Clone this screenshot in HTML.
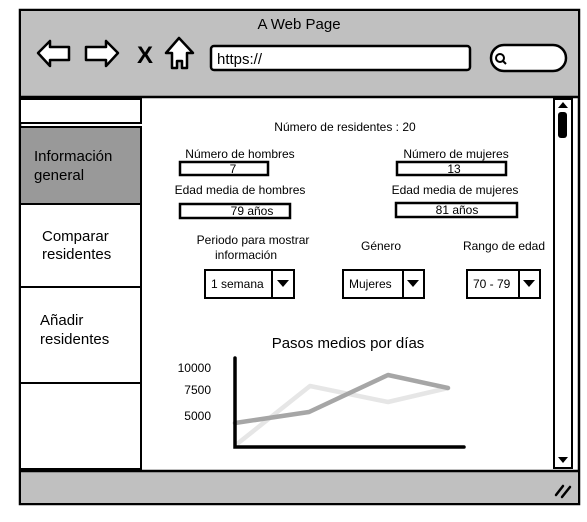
<!DOCTYPE html>
<html><head><meta charset="utf-8"><style>
body{margin:0;background:#fff;width:587px;height:522px;overflow:hidden}
svg{display:block;font-family:"Liberation Sans",sans-serif}
</style></head><body>
<svg width="587" height="522" viewBox="0 0 587 522">
<rect x="20" y="10" width="559" height="494" fill="#fff" stroke="#000" stroke-width="2.5"/>
<rect x="21" y="11" width="557" height="86" fill="#c0c0c0"/>
<line x1="20" y1="97" x2="579" y2="97" stroke="#000" stroke-width="2.5"/>
<text x="299" y="29" font-size="15" text-anchor="middle">A Web Page</text>
<!-- nav icons -->
<path d="M38 53 L50 41 L50 47 L69 47 L69 60 L50 60 L50 66 Z" fill="#fff" stroke="#000" stroke-width="2.5" stroke-linejoin="round"/>
<path d="M118 53 L106 41 L106 47 L86 47 L86 60 L106 60 L106 66 Z" fill="#fff" stroke="#000" stroke-width="2.5" stroke-linejoin="round"/>
<text x="145" y="63" font-size="24" font-weight="bold" text-anchor="middle">X</text>
<path d="M179 38 L193 53 L187 53 L187 68 L182 68 L182 61 L177 61 L177 68 L172 68 L172 53 L166 53 Z" fill="#fff" stroke="#000" stroke-width="2.5" stroke-linejoin="round"/>
<rect x="211" y="46" width="259" height="24" rx="3" fill="#fff" stroke="#000" stroke-width="2.5"/>
<text x="217" y="64" font-size="15">https://</text>
<rect x="491" y="45" width="75" height="26" rx="13" fill="#fff" stroke="#000" stroke-width="2.5"/>
<circle cx="500" cy="58" r="4" fill="none" stroke="#000" stroke-width="2"/>
<line x1="503" y1="61" x2="506" y2="64" stroke="#000" stroke-width="2"/>
<!-- sidebar -->
<rect x="20" y="99" width="121" height="24" fill="#fff" stroke="#000" stroke-width="2"/>
<rect x="20" y="127" width="121" height="77" fill="#999" stroke="#000" stroke-width="2"/>
<rect x="20" y="204" width="121" height="83" fill="#fff" stroke="#000" stroke-width="2"/>
<rect x="20" y="287" width="121" height="96" fill="#fff" stroke="#000" stroke-width="2"/>
<rect x="20" y="383" width="121" height="86" fill="#fff" stroke="#000" stroke-width="2"/>
<g font-size="15">
<text x="34" y="161">Información</text><text x="34" y="180">general</text>
<text x="42" y="241">Comparar</text><text x="42" y="259">residentes</text>
<text x="40" y="325">Añadir</text><text x="40" y="344">residentes</text>
</g>
<!-- scrollbar -->
<rect x="554" y="99" width="18" height="369" fill="#fff" stroke="#000" stroke-width="2"/>
<path d="M558 108 L563 102 L568 108 Z"/>
<rect x="558" y="112" width="9" height="26" rx="3"/>
<path d="M558 457 L563 463 L568 457 Z"/>
<!-- bottom bar -->
<rect x="21" y="472" width="557" height="31" fill="#c0c0c0"/>
<line x1="20" y1="471" x2="579" y2="471" stroke="#000" stroke-width="2.5"/>
<path d="M556 495 L563 486 M562 497 L570 487" stroke="#000" stroke-width="2.5" stroke-linecap="round"/>
<!-- content -->
<g font-size="12" text-anchor="middle">
<text x="345" y="131">Número de residentes : 20</text>
<text x="240" y="158">Número de hombres</text>
<text x="456" y="158">Número de mujeres</text>
<text x="240" y="194">Edad media de hombres</text>
<text x="455" y="194">Edad media de mujeres</text>
</g>
<g fill="#fff" stroke="#000" stroke-width="2.5">
<rect x="180" y="162" width="88" height="13"/>
<rect x="397" y="162" width="109" height="13"/>
<rect x="180" y="204" width="110" height="14"/>
<rect x="396" y="203" width="121" height="14"/>
</g>
<g font-size="12" text-anchor="middle">
<text x="233" y="173">7</text>
<text x="454" y="173">13</text>
<text x="252" y="215">79 años</text>
<text x="457" y="214">81 años</text>
<text x="253" y="244">Periodo para mostrar</text>
<text x="246" y="259">información</text>
<text x="381" y="250">Género</text>
<text x="504" y="250">Rango de edad</text>
</g>
<g fill="#fff" stroke="#000" stroke-width="2">
<rect x="205" y="270" width="89" height="28"/><line x1="272" y1="270" x2="272" y2="298"/>
<rect x="343" y="270" width="81" height="28"/><line x1="403" y1="270" x2="403" y2="298"/>
<rect x="467" y="270" width="73" height="28"/><line x1="519" y1="270" x2="519" y2="298"/>
</g>
<path d="M277 280 L289 280 L283 287 Z M407 280 L419 280 L413 287 Z M523 280 L535 280 L529 287 Z"/>
<g font-size="12">
<text x="211" y="288">1 semana</text>
<text x="349" y="288">Mujeres</text>
<text x="473" y="288">70 - 79</text>
</g>
<text x="348" y="348" font-size="15" text-anchor="middle">Pasos medios por días</text>
<g font-size="12" text-anchor="end">
<text x="211" y="372">10000</text>
<text x="211" y="394">7500</text>
<text x="211" y="420">5000</text>
</g>
<polyline points="237,444 310,386 388,402 448,388" fill="none" stroke="#e6e6e6" stroke-width="4.5" stroke-linejoin="round"/>
<polyline points="235,423 309,412 388,375 448,388" fill="none" stroke="#a6a6a6" stroke-width="4.5" stroke-linejoin="round" stroke-linecap="round"/>
<path d="M235 358 L235 447 L464 447" fill="none" stroke="#000" stroke-width="3.5" stroke-linecap="round"/>
</svg>
</body></html>
